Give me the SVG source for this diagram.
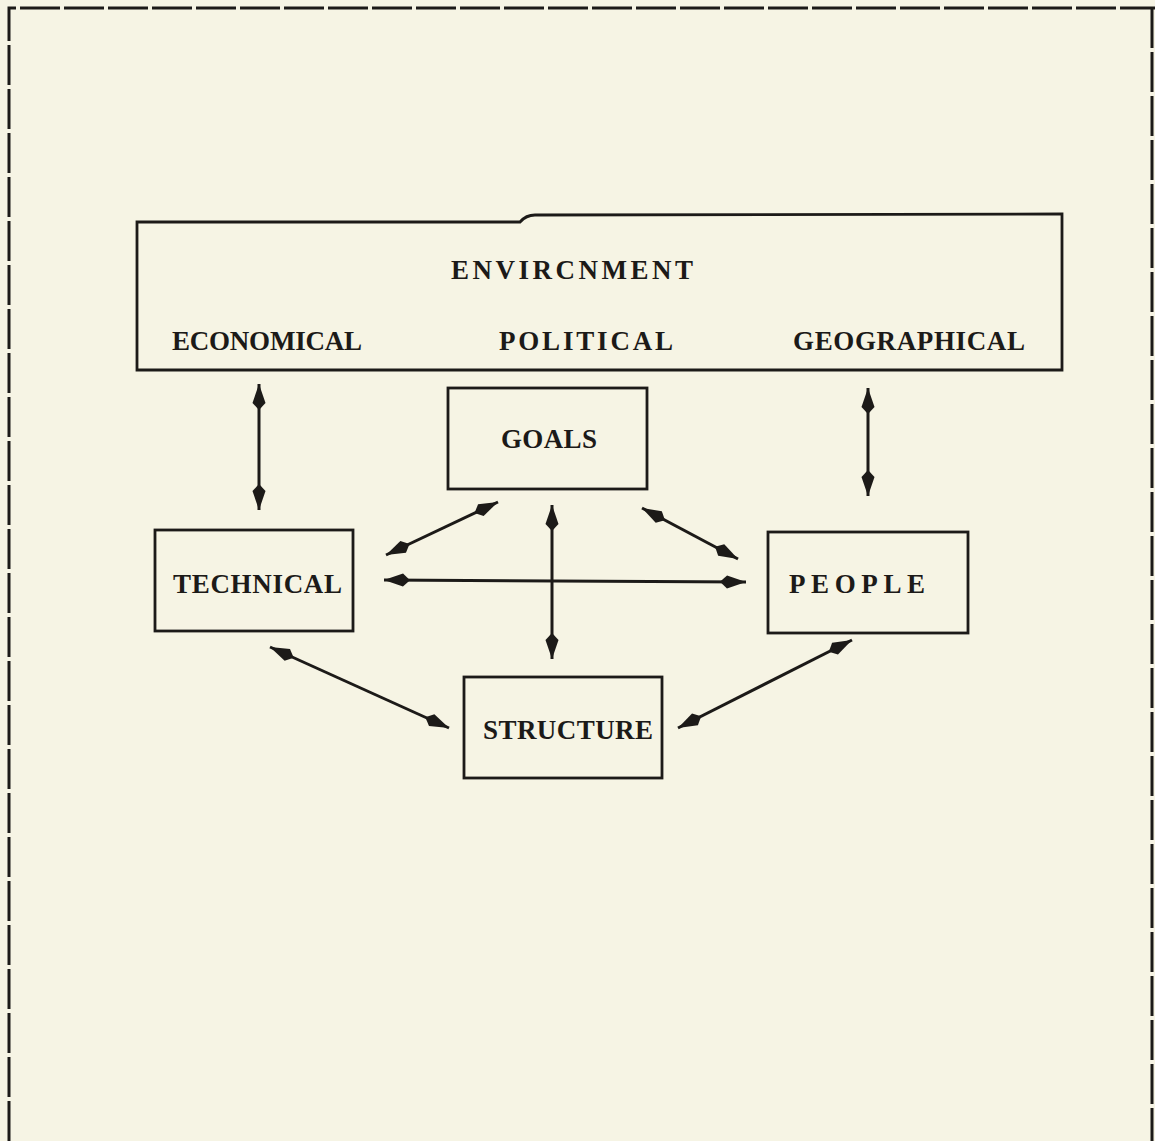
<svg xmlns="http://www.w3.org/2000/svg" width="1155" height="1141" viewBox="0 0 1155 1141">
<defs>
<marker id="ah" markerUnits="userSpaceOnUse" markerWidth="28" markerHeight="18" refX="26" refY="9" orient="auto-start-reverse">
<path d="M0,9 L7,2.5 L26,9 L7,15.5 Z" fill="#1c1a18"/>
</marker>
</defs>
<style>
.bg{fill:#f6f4e4}
.box{fill:none;stroke:#1c1a18;stroke-width:2.8}
.frame{fill:none;stroke:#1c1a18;stroke-width:3;stroke-dasharray:40 4}
.lbl{font-family:"Liberation Serif","DejaVu Serif",serif;font-size:27px;font-weight:bold;fill:#1c1a18}
.con{stroke:#1c1a18;stroke-width:3;fill:none;marker-start:url(#ah);marker-end:url(#ah)}
</style>
<rect class="bg" x="0" y="0" width="1155" height="1141"/>
<g id="frame">
<path class="frame" d="M9,1141 L9,8 L1155,8"/>
<path class="frame" d="M1152,8 L1152,1141"/>
</g>
<g id="environment">
<path class="box" d="M137,370 L137,222 L520,222 Q526,215 535,215 L1062,214 L1062,370 Z"/>
<text class="lbl" x="451" y="279" textLength="242" lengthAdjust="spacing">ENVIRCNMENT</text>
<text class="lbl" x="172" y="350" textLength="190" lengthAdjust="spacing">ECONOMICAL</text>
<text class="lbl" x="499" y="350" textLength="174" lengthAdjust="spacing">POLITICAL</text>
<text class="lbl" x="793" y="350" textLength="232" lengthAdjust="spacing">GEOGRAPHICAL</text>
</g>
<g id="goals">
<rect class="box" x="448" y="388" width="199" height="101"/>
<text class="lbl" x="501" y="448" textLength="96" lengthAdjust="spacing">GOALS</text>
</g>
<g id="technical">
<rect class="box" x="155" y="530" width="198" height="101"/>
<text class="lbl" x="173" y="593" textLength="169" lengthAdjust="spacing">TECHNICAL</text>
</g>
<g id="people">
<rect class="box" x="768" y="532" width="200" height="101"/>
<text class="lbl" x="789" y="593" textLength="136" lengthAdjust="spacing">PEOPLE</text>
</g>
<g id="structure">
<rect class="box" x="464" y="677" width="198" height="101"/>
<text class="lbl" x="483" y="739" textLength="170" lengthAdjust="spacing">STRUCTURE</text>
</g>
<g id="connectors">
<line class="con" x1="259" y1="384" x2="259" y2="510"/>
<line class="con" x1="868" y1="388" x2="868" y2="496"/>
<line class="con" x1="498" y1="502" x2="386" y2="555"/>
<line class="con" x1="552" y1="505" x2="552" y2="659"/>
<line class="con" x1="642" y1="508" x2="738" y2="559"/>
<line class="con" x1="384" y1="580" x2="746" y2="582"/>
<line class="con" x1="270" y1="647" x2="449" y2="728"/>
<line class="con" x1="852" y1="640" x2="678" y2="728"/>
</g>
</svg>
